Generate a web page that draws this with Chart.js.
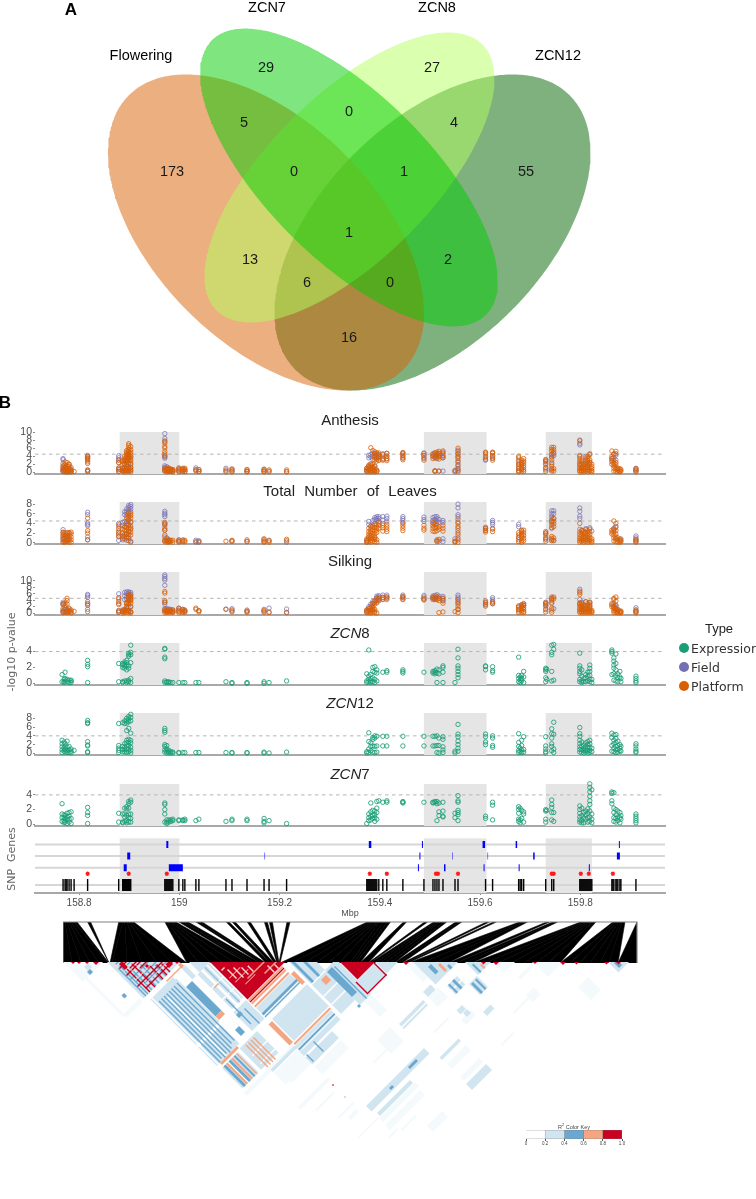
<!DOCTYPE html>
<html>
<head>
<meta charset="utf-8">
<title>Flowering and ZCN associations</title>
<script src="https://cdn.jsdelivr.net/npm/chart.js@4"></script>
<style>
    html, body { margin: 0; padding: 0; background: #fff; overflow: hidden; }
    #page { position: relative; width: 756px; height: 1199px; overflow: hidden; font-family: "Liberation Sans", sans-serif; }
    canvas { position: absolute; }
    .lbl { position: absolute; white-space: nowrap; transform: translate(-50%, -50%); }
    .dot { position: absolute; border-radius: 50%; transform: translate(-50%, -50%); }
</style>
</head>
<body>
<div id="page"></div>
<script>
// Venn diagram, first set is painted last
var vennNames = ['ZCN7', 'ZCN8', 'Flowering', 'ZCN12'];
var vennCx = [349, 349.5, 266, 432.5];
var vennCy = [177.5, 177.5, 232.5, 232.5];
var vennMajor = [194, 188, 194, 194];
var vennMinor = [82, 82, 111, 111];
var vennTilt = [45, -45, 45, -45];
var vennFill = ['rgba(0,205,0,0.5)', 'rgba(180,255,95,0.5)', 'rgba(217,95,2,0.5)', 'rgba(0,100,0,0.5)'];
var vennCounts = ['173', '29', '27', '55', '5', '0', '4', '0', '1', '1', '13', '2', '6', '0', '16'];
var vennCountX = [172, 266, 432, 526, 244, 349, 454, 294, 404, 349, 250, 448, 307, 390, 349];
var vennCountY = [172, 68, 68, 172, 123, 112, 123, 172, 172, 233, 260, 260, 283, 283, 338];

// x axis of the association panels, Mbp
var mbpMin = 158.712, mbpMax = 159.969;
var mbpTicks = [158.8, 159, 159.2, 159.4, 159.6, 159.8];
var shadeStart = [158.881, 159.488, 159.731];
var shadeEnd = [159.0, 159.613, 159.823];

var anthesisField = [
    [158.768,3.4,3.1,1.5,.9,.5,.2],[158.772,1.2,.6,.3],[158.776,.8,.4,.1],[158.78,2,1,.5,.2],[158.784,.7,.2],
    [158.817,4.2,3.9,3.6,3.3,.6,.3],[158.879,4.1,3.6,3.1,2.4,1,.6,.2],[158.887,1,.5,.2],[158.891,3,2,1,.4],[158.895,4,3,1.5,.6],[158.899,4.4,3.6,2,1,.3],[158.903,3.8,2,1.2,.4],
    [158.971,9.6,8.4,7.6,4.2,3.8,3.5,1.6,1.2,.8,.3],[158.975,1.4,.9,.4],[158.979,1,.5,.2],[158.983,.7,.3],[158.987,.6,.2],[158.999,.9,.3],[159.007,.8,.3],[159.011,.7,.2],
    [159.033,1.1,.5],[159.039,.7,.2],[159.093,1,.3],[159.105,.8,.2],[159.135,.7,.2],[159.169,.8,.2],[159.179,.3],[159.214,.2],
    [159.374,1,.5,.2],[159.378,4.2,3.6,1.5,.6],[159.382,4.4,3.8,2,1,.3],[159.386,4.8,4,3.2,1.2,.5],[159.39,4.7,4.2,1.6,.4],[159.394,4.5,3.6,.3],[159.398,4.4,3.8,3],[159.406,4.6,4,3.2],[159.414,4.7,4,3.3],
    [159.446,4.8,4.2,3.5],[159.488,4.8,4.2,3.4],[159.506,4.5,3.9],[159.51,4.8,3.8,.3],[159.514,4.6,4.1,3.4],[159.518,4.7,4.1,.3],[159.526,5,4,3.6,.3],[159.55,.5,.1],[159.556,5.5,4.6,3.8,2.5,1.9,1,.4],
    [159.611,4.8,3.6,3],[159.625,4.8,4,3.4],[159.677,3,2,1,.3],[159.683,2.4,.8],[159.731,3.2,2.8,2.2,1],[159.743,4.4,3.8,2,.6],[159.747,4.6,4.1],[159.799,8,7.2,6.8,4.2,2],[159.803,3,1],[159.811,4,2],[159.819,4.6,2.4],[159.863,3.4,3],[159.867,4.4,3.6,2],[159.871,4.2,3],[159.875,.8],[159.911,1,.7,.3]
];
var anthesisPlatform = [
    [158.768,.2,.6,1,1.6,2.2],[158.772,.1,.4,.8,1.3,1.9,2.6],[158.776,.1,.3,.7,1.1,1.6,2.4],[158.78,.1,.4,.9,1.5,2],[158.784,.1,.3,.6,1.2],[158.79,.2],[158.817,3.9,3.4,3,2.6,2.2,.5,.2],
    [158.879,3,2.4,1.1,.7,.2],[158.887,.2,.6,1,2,2.6,3],[158.891,.1,.5,1,2.2,2.8,3.4,4],[158.895,.1,.4,.9,2,2.6,3.1,3.6,4.2,4.6,5,5.4],[158.899,.2,.6,1.1,2.4,3,3.4,3.8,4.3,4.8,5.2,5.7,6.2,6.7,7.1],[158.903,.1,.7,1.2,2.2,2.8,3.3,3.9,4.4,5,5.6,6.4],
    [158.971,7.8,7.2,6.4,6,5.2,4.6,4,1,.6,.3],[158.975,1,.7,.4,.1],[158.979,1,.7,.4,.2],[158.983,.8,.5,.2],[158.987,.7,.4,.1],[158.999,1.1,.7,.4,.1],[159.007,1,.6,.3],[159.011,1,.6,.2],
    [159.033,.7,.3],[159.039,.6,.2],[159.093,.6,.1],[159.105,.8,.5,.1],[159.135,.6,.3,.1],[159.169,.7,.4,.1],[159.179,.6,.1],[159.214,.6,.1],
    [159.374,.2,.6,1],[159.378,.2,.6,1.3,1.8],[159.382,.1,.5,1.1,1.6,2.1,6.1],[159.386,.2,.7,1.4,2,5.4],[159.39,.1,.4,.9,1.5,3.1,3.6,4,4.6,5.1],[159.394,.2,.6,2.8,3.3,4,4.8],[159.398,3,3.6,4.2,4.8],[159.406,3,3.5,4.4],[159.414,2.9,3.4,4,4.7],
    [159.446,3.1,3.6,4.1,4.6,4.9],[159.488,3,3.6,4.2,4.7],[159.506,3.4,4.1,4.6],[159.51,.2,.4,3.6,4.2,4.8],[159.514,3.6,4.3,5],[159.518,.3,3.3,3.9,4.6,5.2],[159.526,3.6,4.2,4.7,5.3],[159.55,.3],[159.556,.1,.8,1.6,2.8,3.4,4,4.6,5.2,6],
    [159.611,3.2,3.9,4.5,5],[159.625,3,3.6,4.2,4.8,5],[159.677,.1,.5,1,1.5,2,2.6,3.6,4],[159.683,.3,.8,1.2,1.8,2.4,3],[159.687,.2,.6,1.2,1.7,2.3,2.8,3.4],[159.731,.2,.6,1.2,1.9,2.6,3],[159.743,.3,.9,1.5,2.4,3.1,3.8,4.5,5.2,5.7,6.2],[159.747,.3,.9,5,5.6,6.2],
    [159.799,.1,.4,.8,1.2,1.7,2.3,2.8,3.4,3.9,7.8],[159.803,.1,.4,.9,1.4,2,2.6],[159.807,.1,.5,1,1.6,2.2],[159.811,.2,.6,1.2,1.8,2.4,3,3.6],[159.815,.1,.5,1.1,1.7,2.3,2.9,3.5,4],[159.819,.2,.6,1.2,1.9,2.5,3.1,4.4],[159.823,.1,.4,.9,1.4,2],
    [159.863,2,2.6,3.4,3.9,5.3],[159.867,.3,1,1.6,2.3,3,4.6],[159.871,.2,.7,1.2,1.9,2.4,5.2,4.6],[159.875,.1,.5,1],[159.879,.1,.4,.9],[159.881,.3,.7],[159.911,.1,.5,.9]
];

var leavesField = [
    [158.768,2.7,2.2,1.4,.8,.2],[158.772,1.6,.9,.3],[158.776,1.2,.4],[158.78,1.9,.7],[158.817,6.3,5.8,4.1,3.8,3.5,1.2,.6],
    [158.879,4,3.4,2.1,1.4,.5],[158.887,4.2,3.6,1.2,.6],[158.891,6.4,5.8,4.4,3.3,1.8,.8],[158.895,7,6.5,6,5.5,4.4,3.6,2,1],[158.899,7.7,7.3,6.8,6.3,4.6,3.8,2.2,1.2,.4],[158.903,7.9,7.5,7,6.4,4.2,3,.3],
    [158.971,6.5,6.1,5.8,5.4,4,3.6,2.6,1.2,.4],[158.975,1,.5],[158.979,.5,.2],[158.999,.5,.2],[159.007,.4],[159.033,.5,.1],[159.039,.4,.1],[159.105,.4],[159.135,.3],[159.169,.7,.2],[159.179,.5],[159.214,.1],
    [159.374,.5,.1],[159.378,4.4,3.8,1.2],[159.382,3.4,2.4,1],[159.386,4.6,3.6],[159.39,5.2,4.8,4,1],[159.394,5.4,5,4.6],[159.398,5.4,5,4.4],[159.406,5.4,4.7,4],[159.414,5.5,5,4.4],[159.446,5.4,5,4.6,4.2],
    [159.488,5.3,4.8,4.4],[159.506,5.2,4.6,4],[159.51,5.4,4.8,4.2],[159.514,5.4,5,4.4,.6],[159.518,4.8,4.2,.3],[159.526,4.6,4.2,.8,.2],[159.55,.8,.2],[159.556,8,7.2,5.8,5.4,4.3,2.5,1],
    [159.611,3,2.6],[159.625,4.6,4.2,3.8,3],[159.677,3.8,3.3,1],[159.683,2.5],[159.731,2,.8],[159.743,6.6,6,5.5,5,4.4,3,.6],[159.747,6.6,6,5,.4],[159.799,7.2,6.5,5.5,5,2.8],[159.803,2.6],[159.811,2.9],[159.819,3.1],[159.823,2.4],[159.867,2.6,3],[159.871,3.4,.9],[159.881,.8],[159.911,1.4,1,.6,.2]
];
var leavesPlatform = [
    [158.768,.1,.6,1.1,1.7,2.1],[158.772,.1,.4,.9,1.4,2],[158.776,.2,.6,1.1,1.6,2.1],[158.78,.1,.5,1,1.5,2.1],[158.784,.1,.6,1.2,1.8,2.2],[158.817,5.1,2.5,2,.6],
    [158.879,3.7,2.9,2.4,1.8,1.2],[158.887,2.8,2,1.4,.9],[158.891,3.2,2.6,1.4],[158.895,5,4,3.2,2.6,1.8,1.2,.5],[158.899,6.2,5.8,5.3,4.8,3.6,3,2.4,1.7,.9],[158.903,6,5.6,5.1,4.3,3.4,2.8,2.2,1.6,.1],
    [158.971,4.2,3.8,3,2.6,1.6,.6,.2],[158.975,.8,.4,.1],[158.979,.6,.3,.1],[158.983,.5,.2],[158.987,.5,.1],[158.999,.6,.3,.1],[159.007,.6,.2],[159.011,.5,.2],[159.033,.2],[159.039,.2],[159.093,.3],[159.105,.5,.2],[159.135,.6,.2],[159.169,.8,.4,.1],[159.179,.4,.1],[159.214,.7,.4],
    [159.374,.1,.4,.8],[159.378,.2,.7,1.2,1.8,2.3,3],[159.382,.1,.5,1,1.5,2,2.8,3.4],[159.386,.3,.8,1.4,2,2.6,3.2],[159.39,.2,.7,1.2,1.8,2.4,3.1,3.6],[159.394,.1,.6,2.1,2.6,3.1,3.8],[159.398,3,3.6,4.1],[159.406,2.4,3.1,3.6],[159.414,2.3,2.8,3.3,3.8],[159.446,2.5,3,3.5,4],
    [159.488,2.6,3,3.6],[159.506,2.4,3,3.5,4.2],[159.51,2.3,3.1,3.8],[159.514,.2,.4,2.5,3.1,3.7],[159.518,2.8,3.3,.7],[159.526,2.4,3,3.6],[159.55,.3,.1],[159.556,.1,.6,1.6,2,3,3.4,4,4.9],
    [159.611,2.2,2.5,2.9,3.2],[159.625,2.3,2.8],[159.677,.2,.6,1.1,1.6,2.1],[159.683,.1,.5,1,1.4,1.8,2.2,2.6],[159.687,.4,.9,1.5,2,2.6],[159.731,.3,.7,1.1,1.6,2,2.3],[159.743,.4,.9,1.3,3.1,3.6,4.1,4.6],[159.747,.5,1,3.3,3.9,4.4,5],
    [159.799,.1,.4,.8,1.2,1.7,2.2,4],[159.803,.2,.6,1,1.5,2,2.5],[159.807,.1,.5,1,1.4,1.9,2.4],[159.811,.2,.6,1.1,1.6,2.1,2.7],[159.815,.1,.5,1,1.5,2,2.5],[159.819,.2,.6,1.1,1.7,2.2,2.8],[159.823,.1,.4,.8],
    [159.863,1.8,2.2,2.6],[159.867,.4,1,1.6,2.2,2.8,4.5],[159.871,.2,.7,1.2,1.8,2.5,3.2,4],[159.875,.1,.5,1],[159.879,.1,.4,.7],[159.881,.2,.5],[159.911,.1,.4,.7]
];

var silkingField = [
    [158.768,3.4,3,2.6,.9,.4],[158.772,1.1,.5],[158.776,.9,.3],[158.78,1.3,.6],[158.817,5.8,5.4,4.9,2.8,1.2],[158.879,6,4.4,3,.9,.4],[158.887,1,.5],[158.891,6.4,5.4,4.2,.8],[158.895,6.6,6,5,4.4,3.2,1.4],[158.899,6.6,6.2,5.6,5,4,1.8,.7],[158.903,6.4,5.8,5,4.2,2,.4],
    [158.971,11.8,11.3,10.7,10.2,8.6,3.4,2.8,1.4,.8],[158.975,1.4,.9],[158.979,1.3,.7],[158.983,1.2,.5],[158.987,1,.4],[158.999,1.6,.8],[159.007,1.2,.5],[159.011,1,.4],[159.039,.8],[159.093,1.3],[159.105,1.4,.7],[159.135,1,.5],[159.169,1.2,.6],[159.179,1.6,.4],[159.214,1.3,.3],
    [159.374,1,.4],[159.378,2,1.4],[159.382,2.8,2.2,1],[159.386,3.6,3,1.2],[159.39,4,3.2],[159.394,5.3,4.8,4],[159.398,5.4,5,4.4,3.8],[159.406,5.6,4.9,4.2],[159.414,5.6,5,4.2],[159.446,5.6,5,4.4],[159.488,5.5,5,4.2],[159.506,5.3,4.7,4.2],[159.51,5.5,4.8,4.2],[159.514,5.7,5,4.4],[159.518,5.3,4.6],[159.526,5.2,4.5,3.8],
    [159.556,5.6,5,4.4,3.2,1.2],[159.611,3.4,2.6],[159.625,4.8,4.2,3.6,2.9],[159.677,2,1.2],[159.683,2.6,2],[159.687,3,2.4],[159.731,3.4,3,2.4,1.4],[159.743,5,4.5,3],[159.747,1.4],[159.799,7.4,6.8,4.2,3],[159.803,3.4,2],[159.811,3.6],[159.819,3.3,2.2],[159.867,3,2.4,1.8],[159.871,2.4,1.4],[159.875,1.2],[159.911,1.7,1.1,.5]
];
var silkingPlatform = [
    [158.768,2.8,1.4,.6,.2],[158.772,3.1,2.4,1.6,.4],[158.776,4.6,3.9,2.9,1.2,.6,.2],[158.78,1.6,.8,.4],[158.784,1,.5,.1],[158.79,.6],[158.817,3.6,3,2.4,.5],
    [158.879,4.8,3.6,2.7,.7,.3],[158.887,.9,.4,.1],[158.891,1.2,.6,.2],[158.895,3.3,2.9,2.2,1.8,.9,.3],[158.899,5.7,5.2,4.6,4,3.5,2.9,.8,.2],[158.903,5.6,5,4.4,3.8,3.1,2,.5,.1],
    [158.971,6.7,6.2,3.9,3.4,1.2,.7,.2],[158.975,1,.5,.2],[158.979,1.1,.6,.2],[158.983,.9,.4],[158.987,1,.5,.2],[158.999,1.5,1,.5,.1],[159.007,1.2,.8,.3],[159.011,.8,.4],[159.033,1.6,1.2],[159.039,.8,.4],[159.093,1.2],[159.105,1,.4],[159.135,.7,.3],[159.169,.9,.3],[159.179,.2],[159.214,.2],
    [159.374,.2,.6,1],[159.378,.2,.8,1.4],[159.382,.1,.5,1,1.7],[159.386,.3,.9,1.5,2.2,3],[159.39,.2,.6,1.2,2.8,3.6],[159.394,.1,3.2,3.9,4.6],[159.398,4.1,4.7],[159.406,4.4,4.9],[159.414,4.6,5],[159.446,4.2,4.8,5.2],[159.488,4.1,4.6],[159.506,4.6,5],[159.51,4.4,4.9],[159.514,4.2,5.1],[159.518,.2,3.9,4.6],[159.526,.4,3.1,4,4.7],
    [159.55,.5],[159.556,.2,1.2,2,2.8,3.6,4.2],[159.611,2.2,2.8,3.2,3.8],[159.625,3,3.4],[159.677,.2,.7,1.2,1.8,2.3],[159.683,.3,.9,1.5,2.1,2.6],[159.687,.2,.6,1.2,1.7,2.4,2.8],[159.731,.4,1.1,2.2,2.8,3.2],[159.743,.3,1,1.6,3.4,4,4.6],[159.747,5,4.4],
    [159.799,.2,.6,1.1,1.6,2.2,2.8,3.2,5.8,6.4],[159.803,.1,.5,1,1.5,2,2.6,3],[159.807,.2,.7,1.2,1.8,2.4],[159.811,.1,.5,1,1.6,2.2,3.5],[159.815,.2,.6,1.2,1.7,2.4,3],[159.819,.1,.5,1,1.6,2.2,2.8,3.4],[159.823,.2,.5,.9],
    [159.863,2,2.6,3],[159.867,.3,.8,1.4,2,4.6,4.2],[159.871,.2,.7,1.2,1.8,2.4,3.8,5],[159.875,.1,.5,.9],[159.879,.2,.6],[159.881,.1,.4,.7],[159.911,.1,.4,.8]
];

var zcn8Expression = [
    [158.766,1.1,.2],[158.77,.5,.2,.1],[158.772,1.4,.6,.3],[158.776,.5,.2],[158.78,.4,.1],[158.784,.4,.3,.1],[158.817,2.9,2.4,2.1,.1],
    [158.879,2.5,.2],[158.887,2.5,2.3,2,.2,.1],[158.891,2.7,2.4,2.2,1.9,.3],[158.895,2.9,2.6,2.2,1.7,.3,.1],[158.899,3.8,3.6,3.4,2.2,1.9,.4,.2],[158.903,4.8,3.9,3.6,2.6,.6,.1],
    [158.971,4.4,4.3,3.3,3.1,.3,.1],[158.975,.2,.1],[158.979,.2,.1],[158.983,.1],[158.987,.1],[158.999,.1],[159.007,.1],[159.011,.1],[159.033,.1],[159.039,.1],[159.093,.2],[159.105,.1,0],[159.135,.1,0],[159.169,.2,0],[159.179,.1],[159.214,.3],
    [159.374,1.2,.3,.1],[159.378,4.2,.9,.5,.2],[159.382,1.1,.6,.3,.1],[159.386,2,1.5,.7,.2],[159.39,2.1,1.4,.5,.1],[159.394,1.7,1.3,.3],[159.406,1.4],[159.414,1.6,1.4],[159.446,1.7,1.5,1.3],[159.488,1.4],
    [159.506,1.5,1.3],[159.51,1.6,1.4,1.2],[159.514,1.8,1.3,.1],[159.518,1.7,1.2],[159.526,2.2,2,1.4,.1],[159.55,.1],[159.556,4.3,3.2,2.2,1.9,1.5,1.1,.7],
    [159.611,2.2,2.1,1.7],[159.625,2.1,1.6,1.4],[159.677,3.3,1,.6,.2],[159.68,.8,.4,.1],[159.683,1,.6,.3],[159.687,1.5,.8,.1],[159.731,1.9,1.7,1.5,.7,.2],[159.733,1.8,.5],[159.743,4.8,3.9,3.6,1.5,.3],[159.747,4.9,4.3,.4],
    [159.799,3.8,2.2,1.9,1.5,1.2,.5,.2],[159.803,1.7,.9,.3,.1],[159.807,.6,.2],[159.811,1.1,.7,.2],[159.815,1.4,.9,.3],[159.819,2.3,1.9,1.5,1,.5,.2],[159.823,.5,.1],
    [159.863,4.2,4,3.8,1.1],[159.867,3.2,2.8,2.3,1.9,1.2,.4],[159.871,3.7,2.5,1.7,1,.3],[159.875,1.2,.7,.2],[159.879,1.5,.8],[159.881,.6,.2],[159.911,.9,.6,.3,.1]
];
var zcn12Expression = [
    [158.766,3,2.2,1.5,.8,.2],[158.77,2.6,1.2,.5],[158.772,2.2,1.6,.9,.3],[158.776,2.8,1.4,.6,.2],[158.78,1.6,.8,.2],[158.784,1,.5,.1],[158.79,.7],[158.817,7.5,7,6.8,2.7,1.9,1.7,.4,.2],
    [158.879,6.8,1.8,1.2,.7,.2],[158.887,7,1.6,.9,.3],[158.891,7.4,6.8,2.2,1.4,.8,.3],[158.895,8,7.4,6.9,5.2,3,2.4,1.7,1,.2],[158.899,8.4,7.8,7.2,5.7,3.2,2.6,1.8,1,.4],[158.903,8.9,8.2,7.4,4.6,3,2.4,1.4,.7,.1],
    [158.971,5.7,5.2,4.8,2,1.6,.8,.3],[158.975,1.8,1,.5,.1],[158.979,.7,.3,.1],[158.983,.4,.1],[158.987,.3,.1],[158.999,.2,.1],[159.007,.2],[159.011,.2],[159.033,.2],[159.039,.2],[159.093,.2],[159.105,.2,.1],[159.135,.2,.1],[159.169,.3,.1],[159.179,.1],[159.214,.3],
    [159.374,.4,.1],[159.378,4.7,2.7,1,.2],[159.382,2.4,1.6,.6],[159.386,3.6,3.2,1.7,.3],[159.39,4,3.5,1.6,.2],[159.394,3.9,1.7,.3],[159.406,3.9,1.7],[159.414,3.9,1.7],[159.446,3.9,1.7],[159.488,3.9,1.7],
    [159.506,3.9,1.7],[159.51,3.9,1.7],[159.514,4,1.8,.2],[159.518,3.5,1.8,.1],[159.526,3.8,3.2,1.5,.8,.2],[159.55,.5,.1],[159.556,6.6,4.4,3.8,2.8,2,1.2,.5],
    [159.611,4.4,3.8,2.6,2],[159.625,4,3.5,1.8,1.4],[159.677,4.5,2.5,1.6,.7,.2],[159.68,1.2,.4],[159.683,3,1.8,.8,.2],[159.687,3.8,.9,.3],[159.731,3.8,1.7,1,.4,.1],[159.743,5.6,4.5,3.5,2.2,1.6,.6],[159.747,7.1,4.4,1,.2],
    [159.799,5.9,4.5,3.9,3,2.2,1.5,.9,.3],[159.803,2.6,1.6,.8,.2],[159.807,1.9,1.2,.6,.1],[159.811,2.4,1.5,.8,.3],[159.815,2.7,2,1.3,.6,.1],[159.819,3,2.2,1.4,.7,.2],[159.823,1.2,.4],
    [159.863,4.6,3.6,1.8,.5],[159.867,4.2,3,2.2,1.2,.4],[159.871,4.3,3.4,2.5,1.6,.8,.2],[159.875,2.8,1.8,.9,.3],[159.879,2,1.2,.6],[159.881,1.6,.5],[159.911,2.2,1.7,1,.5,.2]
];
var zcn7Expression = [
    [158.766,2.8,1.4,.9,.4],[158.77,1.3,.9,.5,.2],[158.772,1.2,.8,.3],[158.776,1.5,1,.6,.1],[158.78,1.6,1.1,.7,.3],[158.784,1.7,.8,.1],[158.817,2.3,1.6,1.2,.1],
    [158.879,1.5,.3],[158.887,1.4,.3,.2],[158.891,2.2,1.4,1,.4],[158.895,2.4,2.1,1.2,.5,.2],[158.899,3.1,2.8,2.2,1.4,.9,.3],[158.903,3.3,3,1.4,.8,.3],
    [158.971,2.9,2.7,2,1.4,.3],[158.975,.6,.3,.1],[158.979,.6,.3],[158.983,.6,.4],[158.987,.7,.5],[158.999,.6,.5],[159.007,.6,.5],[159.011,.7,.5],[159.033,.5],[159.039,.7],[159.093,.4],[159.105,.7,.5],[159.135,.7,.5],[159.169,.8,.4,.2],[159.179,.5],[159.214,.1],
    [159.374,.1],[159.378,1.4,.9,.5],[159.382,2.9,1.7,1.1,.6],[159.386,1.9,1.2,.8],[159.39,1.8,1.3,.9,.4],[159.394,3.1,2.2,1.6,.7],[159.398,3.2],[159.406,3],[159.414,3,3.2],[159.446,3.1,2.9,3],[159.488,3],
    [159.506,3,2.9],[159.51,3.1,3],[159.514,3.1,2.8,.5],[159.518,2.9,1.7,1.2],[159.526,3,1.8,1.1,1],[159.55,1.5,.9],[159.556,3.9,3.2,3,1.9,1.6,1.3,.5],
    [159.611,1.1,.8],[159.625,3,2.6,.6],[159.677,2.4,2,1.5,.7,.4],[159.68,2.2,.6,.2],[159.683,1.9,.8],[159.687,1.7,1.4,.3],[159.731,2,1.8,.7,.3],[159.733,1.9],[159.743,3.3,2.7,2.3,1.6,.6],[159.747,1.6,.4],
    [159.799,2.5,2,1.5,1,.6,.3],[159.803,2.2,1.2,.5,.2],[159.807,1.6,.9,.2],[159.811,1.8,1.3,.7],[159.815,2.1,1.5,.9,.3],[159.819,5.5,5,4.4,3.8,3.2,2.7,1.8,1,.4],[159.823,4.7,1.4,.7,.2],
    [159.863,4.4,4.2,3.2,2.8],[159.867,4.3,2.2,1.6,.9,.4],[159.871,2,1.3,.8,.3],[159.875,1.8,1,.5],[159.879,1.6,.9,.2],[159.881,1.2,.7],[159.911,1.4,1.1,.8,.5,.2]
];

var panelNames = ['Anthesis', 'Total Number of Leaves', 'Silking', '<i>ZCN</i>8', '<i>ZCN</i>12', '<i>ZCN</i>7'];
var panelMin = [-.42, -.27, -.53, -.21, -.36, -.23];
var panelMax = [10, 8.43, 12.7, 5.08, 9.2, 5.48];
var panelTicks = [[0, 2, 4, 6, 8, 10], [0, 2, 4, 6, 8], [0, 2, 4, 6, 8, 10], [0, 2, 4], [0, 2, 4, 6, 8], [0, 2, 4]];
var panelThreshold = [4.5, 4.5, 4.6, 4, 4, 4];

// genes and SNPs below the panels
var geneRow3 = [[158.974,158.978],[159.378,159.383],[159.484,159.486],[159.605,159.610],[159.671,159.674],[159.818,159.819],[159.877,159.879]];
var geneRow2 = [[158.896,158.902],[159.170,159.171],[159.479,159.481],[159.544,159.545],[159.615,159.616],[159.706,159.709],[159.873,159.879]];
var geneRow1 = [[158.889,158.895],[158.979,159.007],[159.476,159.478],[159.528,159.531],[159.607,159.609],[159.677,159.679],[159.817,159.819]];
var snpMbp = [158.768,158.772,158.776,158.78,158.784,158.79,158.817,158.879,158.887,158.891,158.895,158.899,158.903,158.971,158.975,158.979,158.983,158.987,158.999,159.007,159.011,159.033,159.039,159.093,159.105,159.135,159.169,159.179,159.214,159.374,159.378,159.382,159.386,159.39,159.394,159.398,159.406,159.414,159.446,159.488,159.506,159.51,159.514,159.518,159.526,159.55,159.556,159.611,159.625,159.677,159.683,159.687,159.731,159.743,159.747,159.799,159.803,159.807,159.811,159.815,159.819,159.823,159.863,159.867,159.871,159.875,159.879,159.881,159.911];
var snpCount = [9,9,9,9,9,1,1,2,15,15,15,15,15,12,12,12,12,12,3,5,5,3,3,4,4,3,1,1,1,12,12,12,12,11,11,3,3,4,8,2,5,5,5,5,4,4,4,3,3,13,13,14,8,8,8,13,13,13,13,12,12,12,10,10,10,10,9,9,19];
var snpFill = [158.889,158.893,158.897,158.901,158.973,158.977,158.981,158.985,159.376,159.38,159.384,159.388,159.392,158.774,159.801,159.805,159.809,159.813,159.817,159.821,159.68,159.865,159.873];
var snpStars = [158.817,158.899,158.975,159.38,159.414,159.512,159.516,159.556,159.743,159.747,159.801,159.817,159.865];

// LD blocks, [first SNP a, last SNP a, first SNP b, last SNP b]
var ldFaint = [
    [0,40,0,40],[5,9,30,115],[8,40,113,119],[85,96,262,312],[100,148,322,345],[147,200,352,372],[262,276,340,372],[50,147,310,318],
    [340,380,340,380],[330,350,400,420],[430,452,430,452],[470,500,470,500],[430,445,496,510],[490,510,540,566],[236,262,392,420],
    [159,229,485,495],[160,232,472,480],[282,320,486,496],[282,320,512,520],[340,360,456,466],[200,230,528,540],
    [90,150,380,385],[104,140,400,403],[120,150,430,433],[108,170,345,350],[130,146,440,446],[150,168,500,503],[170,200,505,508],[120,160,470,472],[210,240,410,413],[300,330,440,443],[400,440,500,503],[440,470,470,475],[355,380,520,523]
];
var ldPale = [
    [44,117,44,117],[50,95,125,148],[50,95,148,258],[90,97,130,220],[122,129,147,217],[133,140,147,217],[142,146,147,217],[112,146,217,262],[112,119,125,147],[126,146,125,147],
    [90,125,262,312],[53,85,265,306],[147,215,239,250],[152,222,266,310],[147,220,316,321],[147,220,326,335],[100,148,315,320],[147,200,338,352],
    [222,254,225,270],[222,254,272,330],[254,276,270,340],[274,311,313,335],[312,335,312,335],[350,395,350,395],[360,380,408,425],[384,400,428,450],[402,428,402,428],[545,566,545,566],
    [16,24,26,34],[274,322,398,403],[274,322,405,408],[159,275,447,458],[163,229,465,471],[281,319,472,477],[281,321,525,537],[349,357,451,459],[330,345,390,400],[345,356,442,450],[370,385,470,478]
];
var ldWhite = [
    [112,120,148,262],[50,147,216,221],[50,147,258,263],[86,90,262,312],[53,147,306,312],[147,222,352,356],[147,215,219,222],[222,226,225,340],[64,66,265,306],
    [52,54,125,258],[145,147,147,262],[68,70,140,258],[118,146,174,176],[118,146,196,198],[96,126,282,284],[96,126,298,300],[152,222,326,327],[226,254,294,296],[226,254,310,312],[360,380,416,418]
];
var ldBlue = [
    [14,20,34,40],[25,30,92,98],[48,50,60,117],[60,62,70,117],[74,76,80,117],[88,90,95,117],[50,117,54,56],[50,117,84,86],[52,54,60,117],[68,70,84,117],[80,82,100,117],[54,117,66,68],[54,117,92,94],[60,117,102,104],
    [98,110,148,207],[56,58,135,258],[61,63,135,255],[66,68,135,258],[71,73,135,255],[76,78,135,258],[81,83,135,255],[86,88,135,250],[92,94,135,250],
    [136,137,147,217],[104,112,240,252],[120,128,226,232],[56,60,265,306],[66,70,265,306],[76,79,265,306],[147,217,250,254],[147,217,256,258],[148,220,322,325],
    [228,232,225,270],[240,244,225,270],[254,264,274,324],[266,268,276,340],[250,254,338,342],[360,366,370,385],[380,384,388,395],[362,365,408,425],[370,374,408,425],[386,390,430,450],[394,397,430,450],[406,409,412,428],[550,556,552,562],
    [200,206,452,456],[240,256,450,454],[150,152,336,350],[170,172,330,350],[125,127,200,250],[134,136,228,258]
];
var ldRed = [
    [147,222,147,222],[277,312,277,312],[274,311,335,337],[309,311,312,337],[272,274,313,337],[147,215,226,228],
    [66,68,70,117],[82,84,90,117],[96,98,100,117],[56,58,62,117],[90,92,96,117],[50,100,62,64],[50,117,76,78],[50,117,98,100],[56,117,108,110],[60,117,72,74],[70,117,82,84],
    [8,12,8,12],[14,18,14,18],[22,26,22,26],[30,36,30,36],[112,116,112,116],[146,148,392,394],
    [340,346,340,346],[418,423,418,423],[430,436,430,436],[470,474,470,474],[497,503,497,503],[511,516,511,516],[541,546,541,546],[553,558,553,558],[54,60,58,70],[78,82,86,92],[100,108,104,112]
];
var ldOrange = [
    [98,110,207,214],[56,90,258,262],[99,101,266,310],[104,106,266,310],[109,111,266,310],[114,116,266,310],[61,64,265,306],[71,74,265,306],[81,83,265,306],
    [147,215,223,226],[147,215,229,232],[147,215,235,238],[143,150,268,310],[149,221,312,315],[216,222,240,262],[240,250,276,286],[372,376,378,392],[414,417,420,428],
    [146,148,416,418],[125,134,176,178],[168,222,200,202],[190,222,212,214],[112,117,118,125],[84,117,122,124]
];
var ldSpeck = [
    [150,156,166,168],[156,158,172,190],[164,166,176,196],[172,174,184,198],[180,182,188,200],[150,172,182,183],[152,178,192,193],[160,180,204,205],[200,202,208,222],[208,210,214,222],
    [48,50,50,62],[60,61,64,80],[70,71,76,96],[50,90,70,71],[54,100,90,91],[60,110,104,105]
];
var ldColors = ['#f4f9fc', '#d1e5f0', '#ffffff', '#6ba8d0', '#ca0020', '#f4a582', '#f7d9d0'];
var keyBreaks = [0, .2, .4, .6, .8, 1];
var keyColors = ['#ffffff', '#d1e5f0', '#6ba8d0', '#f4a582', '#ca0020'];

var page = document.getElementById('page');
var TICK_GREY = '#4d4d4d';

function addCanvas(left, top, width, height) {
    var c = document.createElement('canvas');
    c.width = width;
    c.height = height;
    c.style.left = left + 'px';
    c.style.top = top + 'px';
    page.appendChild(c);
    return c;
}

function addLabel(html, x, y, size, extra) {
    var d = document.createElement('div');
    d.className = 'lbl';
    d.innerHTML = html;
    d.style.left = x + 'px';
    d.style.top = y + 'px';
    d.style.fontSize = size + 'px';
    if (extra) d.style.cssText += extra;
    page.appendChild(d);
}

// turn [x, v, v, ...] columns into points
function columns(cols) {
    return cols.flatMap(function (c) {
        return c.slice(1).map(function (v) { return { x: c[0], y: v }; });
    });
}

function hiddenAxis(min, max, reverse) {
    return { type: 'linear', display: false, min: min, max: max, reverse: !!reverse };
}

// tick labels must not push the plot area in
function noOverflow(s) {
    s.paddingTop = s.paddingBottom = s.paddingLeft = s.paddingRight = 0;
}

var baseOptions = {
    responsive: false,
    animation: false,
    events: [],
    layout: { padding: 0 },
    plugins: { legend: { display: false }, tooltip: { enabled: false } }
};

// grey bands behind the points
var shadePlugin = {
    id: 'shade',
    beforeDatasetsDraw: function (chart) {
        var x = chart.scales.x, a = chart.chartArea, ctx = chart.ctx;
        ctx.save();
        ctx.fillStyle = '#e5e5e5';
        shadeStart.forEach(function (s, i) {
            var l = x.getPixelForValue(s);
            ctx.fillRect(l, a.top, x.getPixelForValue(shadeEnd[i]) - l, a.bottom - a.top);
        });
        ctx.restore();
    }
};

// ---- Venn ----
function ellipsePoints(i) {
    var pts = [];
    var t = vennTilt[i] * Math.PI / 180;
    for (var k = 0; k <= 360; k++) {
        var u = k / 360 * 2 * Math.PI;
        var p = vennMajor[i] * Math.cos(u), q = vennMinor[i] * Math.sin(u);
        pts.push({ x: vennCx[i] + p * Math.cos(t) - q * Math.sin(t), y: vennCy[i] + p * Math.sin(t) + q * Math.cos(t) });
    }
    return pts;
}

var vennCountPlugin = {
    id: 'vennCounts',
    afterDatasetsDraw: function (chart) {
        var ctx = chart.ctx;
        ctx.save();
        ctx.font = '14.5px "Liberation Sans"';
        ctx.fillStyle = '#1a1a1a';
        ctx.textAlign = 'center';
        ctx.textBaseline = 'middle';
        vennCounts.forEach(function (t, i) {
            ctx.fillText(t, chart.scales.x.getPixelForValue(vennCountX[i]), chart.scales.y.getPixelForValue(vennCountY[i]));
        });
        ctx.restore();
    }
};

new Chart(addCanvas(0, 0, 756, 400), {
    type: 'scatter',
    data: {
        datasets: vennNames.map(function (n, i) {
            return { label: n, data: ellipsePoints(i), showLine: true, fill: 'shape', backgroundColor: vennFill[i], borderWidth: 0, pointRadius: 0, tension: 0 };
        })
    },
    options: Object.assign({}, baseOptions, { scales: { x: hiddenAxis(0, 756), y: hiddenAxis(0, 400, true) } }),
    plugins: [vennCountPlugin]
});

addLabel('A', 71, 10, 17, 'font-weight:bold;');
addLabel('Flowering', 141, 55, 14.5);
addLabel('ZCN7', 267, 7, 14.5);
addLabel('ZCN8', 437, 7, 14.5);
addLabel('ZCN12', 558, 55, 14.5);
addLabel('B', 5, 403, 17, 'font-weight:bold;');

// ---- association panels ----
var panelTop = [431.7, 502, 572.3, 642.7, 713, 783.7];
var panelBase = [474, 544, 614.7, 685, 755.3, 826];
var titleY = [419, 490, 560, 632, 702, 773];
var PAD_TOP = 6, PAD_BOTTOM = 5;

function thresholdSet(value) {
    return {
        data: [{ x: mbpMin, y: value }, { x: mbpMax, y: value }], showLine: true, pointRadius: 0,
        borderColor: '#b5b5b5', borderWidth: 1, borderDash: [3.5, 3.5]
    };
}

function pointSet(name, cols, color) {
    return {
        label: name, data: columns(cols), showLine: false, clip: false,
        pointRadius: 2.2, pointBorderWidth: 1, pointBackgroundColor: 'rgba(0,0,0,0)', pointBorderColor: color
    };
}

var FIELD = 'rgba(117,112,179,0.75)', PLATFORM = 'rgba(217,95,2,0.8)', EXPRESSION = 'rgba(27,158,119,0.85)';
// first set ends up on top
var panelSeries = [
    [pointSet('Platform', anthesisPlatform, PLATFORM), pointSet('Field', anthesisField, FIELD)],
    [pointSet('Platform', leavesPlatform, PLATFORM), pointSet('Field', leavesField, FIELD)],
    [pointSet('Platform', silkingPlatform, PLATFORM), pointSet('Field', silkingField, FIELD)],
    [pointSet('Expression', zcn8Expression, EXPRESSION)],
    [pointSet('Expression', zcn12Expression, EXPRESSION)],
    [pointSet('Expression', zcn7Expression, EXPRESSION)]
];

panelNames.forEach(function (name, i) {
    var top = Math.round(panelTop[i]) - PAD_TOP;
    var h = Math.round(panelBase[i]) - top + 2 + PAD_BOTTOM;
    new Chart(addCanvas(0, top, 756, h), {
        type: 'scatter',
        data: { datasets: panelSeries[i].concat([thresholdSet(panelThreshold[i])]) },
        options: Object.assign({}, baseOptions, {
            layout: { padding: { top: PAD_TOP, right: 91, left: 0, bottom: PAD_BOTTOM } },
            scales: {
                x: {
                    type: 'linear', min: mbpMin, max: mbpMax,
                    grid: { display: false }, ticks: { display: false },
                    border: { color: '#a8a8a8', width: 2 },
                    afterFit: function (s) { s.height = 2; noOverflow(s); }
                },
                y: {
                    type: 'linear', min: panelMin[i], max: panelMax[i],
                    grid: { drawOnChartArea: false, tickLength: 2, color: '#8c8c8c' },
                    border: { display: false },
                    ticks: { color: TICK_GREY, font: { family: 'Liberation Sans', size: 10.5 }, padding: 1, autoSkip: false, maxRotation: 0 },
                    afterBuildTicks: function (s) { s.ticks = panelTicks[i].map(function (v) { return { value: v }; }); },
                    afterFit: function (s) { s.width = 35; noOverflow(s); }
                }
            }
        }),
        plugins: [shadePlugin]
    });
    addLabel(name, 350, titleY[i], 15, 'color:#222;word-spacing:5px;');
});

addLabel('-log10 p-value', 11, 652, 11, 'color:#666;transform:translate(-50%,-50%) rotate(-90deg);font-family:"DejaVu Sans";');
addLabel('SNP&nbsp;&nbsp;Genes', 11, 859, 11, 'color:#666;transform:translate(-50%,-50%) rotate(-90deg);font-family:"DejaVu Sans";');

// ---- gene and SNP track ----
function geneSet(genes, row) {
    var pts = [];
    genes.forEach(function (g) {
        pts.push({ x: g[0], y: row }, { x: g[1], y: row }, { x: g[1], y: NaN });
    });
    return { data: pts, showLine: true, pointRadius: 0, borderColor: '#0000ff', borderWidth: 7, borderCapStyle: 'butt', spanGaps: false };
}
function rowLine(row) {
    return { data: [{ x: mbpMin, y: row }, { x: mbpMax, y: row }], showLine: true, pointRadius: 0, borderColor: '#d6d6d6', borderWidth: 2 };
}
var SNP_ROW = -.5, STAR_ROW = .47;

new Chart(addCanvas(0, 831, 756, 88), {
    type: 'scatter',
    data: {
        datasets: [
            { data: snpMbp.concat(snpFill).map(function (m) { return { x: m, y: SNP_ROW }; }), pointStyle: 'line', rotation: 90, pointRadius: 6, pointBorderColor: '#000', pointBorderWidth: 1.4 },
            geneSet(geneRow3, 3), geneSet(geneRow2, 2), geneSet(geneRow1, 1),
            { data: snpStars.map(function (m) { return { x: m, y: STAR_ROW }; }), pointStyle: 'star', pointRadius: 2.2, pointBorderColor: '#ff1a1a', pointBorderWidth: 1.1 },
            rowLine(3), rowLine(2), rowLine(1), rowLine(SNP_ROW)
        ]
    },
    options: Object.assign({}, baseOptions, {
        layout: { padding: { top: 6, right: 91, left: 0, bottom: 0 } },
        scales: {
            x: {
                type: 'linear', min: mbpMin, max: mbpMax,
                grid: { drawOnChartArea: false, tickLength: 2, color: '#8c8c8c' },
                border: { color: '#a8a8a8', width: 2 },
                title: { display: true, text: 'Mbp', color: TICK_GREY, font: { family: 'Liberation Sans', size: 9 }, padding: { top: 0, bottom: 0 } },
                ticks: { color: TICK_GREY, font: { family: 'Liberation Sans', size: 10 }, padding: 2, maxRotation: 0, autoSkip: false, callback: function (v) { return String(v); } },
                afterBuildTicks: function (s) { s.ticks = mbpTicks.map(function (v) { return { value: v }; }); },
                afterFit: function (s) { s.height = 26; noOverflow(s); }
            },
            y: {
                type: 'linear', min: -1.19, max: 3.53,
                display: true, grid: { display: false }, border: { display: false }, ticks: { display: false },
                afterFit: function (s) { s.width = 35; noOverflow(s); }
            }
        }
    }),
    plugins: [shadePlugin]
});

// ---- legend ----
addLabel('Type', 719, 628, 13, 'color:#222;');
['Expression', 'Field', 'Platform'].forEach(function (n, i) {
    var y = [647.7, 667, 686][i];
    var d = document.createElement('div');
    d.className = 'dot';
    d.style.left = '684px';
    d.style.top = y + 'px';
    d.style.width = '10px';
    d.style.height = '10px';
    d.style.background = ['#1b9e77', '#7570b3', '#d95f02'][i];
    page.appendChild(d);
    addLabel(n, 691, y, 12.5, 'transform:translateY(-50%);color:#333;font-family:"DejaVu Sans";');
});

// ---- LD map, SNP index along the bottom edge of the black fan ----
var snpTotal = snpCount.reduce(function (s, c) { return s + c; }, 0);
var fanSets = [];
var running = 0;
function fanTop(m) {
    return (m - snpMbp[0]) / (snpMbp[snpMbp.length - 1] - snpMbp[0]) * snpTotal;
}
snpMbp.forEach(function (m, i) {
    // neighbouring SNPs of one cluster join up along the top edge
    var next = snpMbp[i + 1];
    var topEnd = next !== undefined && next - m <= .0081 ? next : m + .006;
    fanSets.push({
        data: [{ x: fanTop(m), y: 1 }, { x: running, y: 0 }, { x: running + snpCount[i], y: 0 }, { x: fanTop(topEnd), y: 1 }],
        showLine: true, fill: 'shape', backgroundColor: '#000', borderColor: '#000', borderWidth: .6, pointRadius: 0
    });
    running += snpCount[i];
});
fanSets.unshift({ data: [{ x: 0, y: 0 }, { x: 0, y: 1 }, { x: snpTotal, y: 1 }, { x: snpTotal, y: 0 }], showLine: true, borderColor: '#808080', borderWidth: 1.2, pointRadius: 0, clip: false });

new Chart(addCanvas(63, 921, 575, 42), {
    type: 'scatter',
    data: { datasets: fanSets },
    options: Object.assign({}, baseOptions, { layout: { padding: { top: 1, right: 1, left: 0, bottom: 0 } }, scales: { x: hiddenAxis(0, snpTotal), y: hiddenAxis(0, 1) } })
});

function blockSet(b, color) {
    return {
        data: [
            { x: (b[0] + b[2]) / 2, y: (b[2] - b[0]) / 2 },
            { x: (b[1] + b[2]) / 2, y: (b[2] - b[1]) / 2 },
            { x: (b[1] + b[3]) / 2, y: (b[3] - b[1]) / 2 },
            { x: (b[0] + b[3]) / 2, y: (b[3] - b[0]) / 2 }
        ],
        showLine: true, fill: 'shape', backgroundColor: color, borderWidth: 0, pointRadius: 0
    };
}
var ldSets = [];
[ldFaint, ldPale, ldWhite, ldBlue, ldRed, ldOrange, ldSpeck].forEach(function (blocks, k) {
    blocks.forEach(function (b) { ldSets.unshift(blockSet(b, ldColors[k])); });
});

new Chart(addCanvas(63, 962, 575, 237), {
    type: 'scatter',
    data: { datasets: ldSets },
    options: Object.assign({}, baseOptions, { scales: { x: hiddenAxis(0, 575), y: hiddenAxis(0, 237, true) } })
});

// ---- colour key ----
var keySets = keyColors.map(function (col, i) {
    return { label: String(keyBreaks[i]), data: [[keyBreaks[i], keyBreaks[i + 1]]], backgroundColor: col, borderColor: '#777', borderWidth: .6, barPercentage: 1, categoryPercentage: 1, grouped: false };
});
new Chart(addCanvas(516, 1120, 116, 28), {
    type: 'bar',
    data: { labels: ['R2'], datasets: keySets },
    options: Object.assign({}, baseOptions, {
        indexAxis: 'y',
        layout: { padding: { top: 10, left: 10, right: 10, bottom: 0 } },
        scales: {
            x: {
                type: 'linear', min: 0, max: 1, grid: { drawOnChartArea: false, tickLength: 2, color: '#555' }, border: { display: false },
                ticks: { color: '#444', font: { family: 'Liberation Sans', size: 4.5 }, padding: 0, maxRotation: 0, autoSkip: false },
                afterBuildTicks: function (s) { s.ticks = keyBreaks.map(function (v) { return { value: v }; }); },
                afterFit: function (s) { s.height = 9; noOverflow(s); }
            },
            y: { display: false }
        }
    })
});
addLabel('R<sup style="font-size:4px">2</sup> Color Key', 574, 1126, 5.5, 'color:#444;');
</script>
</body>
</html>
